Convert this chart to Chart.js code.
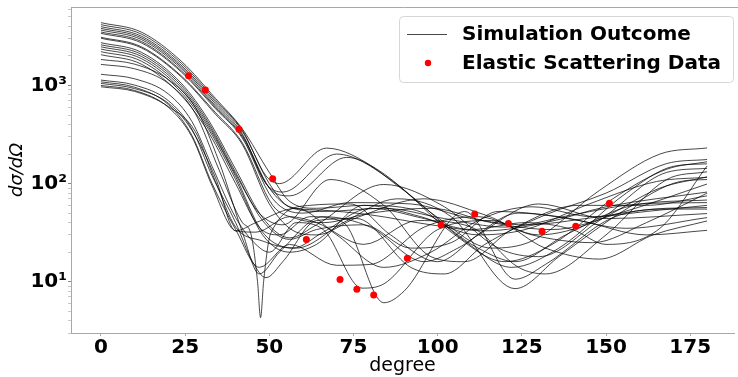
<!DOCTYPE html>
<html>
<head>
<meta charset="utf-8">
<script src="https://cdn.jsdelivr.net/npm/chart.js@4/dist/chart.umd.min.js"></script>
<style>
  html, body { margin: 0; padding: 0; background: #fff; }
  #chart { display: block; }
</style>
</head>
<body>
<canvas id="chart" width="738" height="377"></canvas>
<script>
/* ─── Data ────────────────────────────────────────────── */
// simulated cross sections, [degree, dσ/dΩ] key points per curve
const simulationCurves = [
  [[0,4370],[12,3500],[24,1750],[34,740],[42,360],[50,130],[56,66],[64,56],[78,60],[95,46],[112,30],[126,34],[145,62],[165,105],[180,116]],
  [[0,4170],[12,3340],[24,1670],[34,710],[42,350],[49,120],[53,100],[67,230],[82,140],[100,45],[116,22],[128,26],[148,85],[166,200],[180,231]],
  [[0,3980],[12,3180],[24,1590],[34,680],[42,340],[50,100],[56,58],[64,54],[80,48],[98,38],[114,33],[132,40],[150,58],[180,82]],
  [[0,3820],[12,3060],[24,1530],[34,650],[42,320],[49,100],[54,82],[70,200],[86,110],[104,32],[120,16],[134,24],[152,70],[168,140],[180,167]],
  [[0,3670],[12,2940],[24,1470],[34,620],[42,310],[50,90],[57,56],[66,52],[84,56],[102,44],[120,36],[140,48],[160,62],[180,64]],
  [[0,3510],[12,2810],[24,1400],[34,600],[42,300],[50,90],[56,75],[73,185],[90,85],[108,26],[122,14],[136,22],[156,80],[170,150],[180,159]],
  [[0,3400],[12,2720],[24,1360],[34,580],[42,290],[51,70],[60,50],[74,64],[92,62],[110,44],[126,38],[146,45],[164,55],[180,57]],
  [[0,3100],[12,2480],[24,1240],[34,530],[42,260],[51,60],[58,44],[66,40],[80,50],[98,56],[116,40],[134,34],[154,50],[180,99]],
  [[0,3030],[12,2420],[24,1210],[34,510],[42,250],[50,62],[58,32],[64,30],[76,45],[96,70],[114,48],[130,30],[146,40],[166,90],[180,117]],
  [[0,2730],[12,2180],[24,1040],[32,440],[40,140],[48,45],[56,28],[64,38],[84,98],[102,58],[118,22],[130,18],[148,42],[168,130],[180,143]],
  [[0,2600],[12,2080],[24,990],[32,415],[40,130],[48,42],[56,27],[64,34],[78,38],[92,22],[104,25],[118,52],[136,46],[156,35],[180,45]],
  [[0,2480],[12,1980],[24,940],[32,395],[40,124],[47,50],[54,38],[68,110],[84,60],[98,18],[108,16],[122,34],[142,60],[162,60],[180,75]],
  [[0,2350],[12,1880],[24,890],[32,375],[40,118],[48,32],[58,22],[72,40],[88,70],[104,46],[123,8.5],[136,18],[156,55],[172,105],[180,110]],
  [[0,2210],[12,1770],[24,840],[32,355],[40,110],[48,30],[56,20],[64,24],[78,60],[96,50],[112,22],[123,16],[138,30],[158,60],[180,68]],
  [[0,2060],[12,1650],[24,780],[32,330],[40,100],[47,36],[53,30],[62,46],[72,40],[84,6.1],[90,8],[108,52],[123,10.6],[132,15],[152,45],[170,55],[180,55]],
  [[0,1840],[10,1650],[20,1150],[28,600],[35,170],[42,32],[47,12],[53,20],[66,46],[80,36],[96,16],[106,22],[124,50],[142,42],[162,30],[180,33.4]],
  [[0,1640],[10,1480],[20,1050],[28,520],[35,140],[42,40],[44.5,31],[46.5,10],[47.4,4.3],[48.3,10],[50.4,31],[62,60],[74,62],[86,30],[100,16],[112,30],[130,62],[150,44],[180,49.5]],
  [[0,1300],[10,1170],[20,820],[27,430],[33,150],[40,45],[46,24],[50,20],[58,40],[66,34],[77.5,8.6],[84,9.5],[100,34],[116,42],[132,22],[148,17],[164,30],[180,41.6]],
  [[0,1135],[10,1010],[20,700],[27,360],[33,120],[40,40],[45,16],[49,11],[54,16],[64,42],[76,44],[92,14],[102,12],[114,24],[132,48],[150,80],[168,160],[180,176]],
  [[0,1090],[10,960],[20,640],[27,310],[33,100],[40,34],[47,14],[56,24],[70,14.7],[80,15],[96,36],[112,46],[128,30],[146,25],[162,40],[180,80]],
  [[0,1050],[10,930],[20,660],[27,350],[34,115],[40,33],[46,40],[58,56],[70,30],[84,14],[98,20],[112,42],[128,58],[146,46],[162,52],[180,60]],
  [[0,1000],[10,890],[20,600],[27,300],[33,95],[40,33],[46,32],[56,46],[64,40],[78,24],[94,42],[110,36],[124,14],[132,12],[150,30],[168,110],[180,132]],
  [[0,970],[10,870],[20,610],[28,340],[34,105],[40,36],[48,26],[57,22],[66,32],[80,56],[96,44],[110,34],[126,40],[140,34],[150,24],[166,35],[180,151]],
];

// measured elastic scattering points
const dataAngles = [26, 31, 41, 51, 61, 71, 76, 81, 91, 101, 111, 121, 131, 141, 151];
const dataValues = [1256, 898, 359, 112, 26.9, 10.5, 8.4, 7.3, 17.3, 37.9, 49.1, 39.2, 32.7, 36.8, 63];

const xTicks = [0, 25, 50, 75, 100, 125, 150, 175];
const yTicks = [10, 100, 1000];
const yTickLabels = ['10¹', '10²', '10³'];
const yMinorTicks = [3, 4, 5, 6, 7, 8, 9, 20, 30, 40, 50, 60, 70, 80, 90,
                     200, 300, 400, 500, 600, 700, 800, 900, 2000, 3000, 4000, 5000, 6000];
const legendLabels = ['Simulation Outcome', 'Elastic Scattering Data'];

/* ─── Style ───────────────────────────────────────────── */
const FONT = "'DejaVu Sans', sans-serif";
const LINE = 'rgba(0,0,0,0.72)';
const RED = '#ff0000';
const SPINE = '#a8a8a8';

/* ─── Plugins: top spine + legend ─────────────────────── */
const framePlugin = {
  id: 'frame',
  afterDraw(chart) {
    const { ctx, chartArea: a } = chart;
    ctx.save();
    ctx.strokeStyle = SPINE;
    ctx.lineWidth = 1;
    ctx.beginPath();
    ctx.moveTo(a.left, a.top + 0.5);
    ctx.lineTo(chart.width, a.top + 0.5);
    ctx.stroke();
    ctx.restore();
  }
};

const legendPlugin = {
  id: 'boxLegend',
  afterDraw(chart) {
    const ctx = chart.ctx;
    ctx.save();
    ctx.beginPath();
    ctx.roundRect(399.5, 16.5, 334, 66, 4);
    ctx.fillStyle = 'rgba(255,255,255,0.8)';
    ctx.fill();
    ctx.strokeStyle = '#d6d6d6';
    ctx.lineWidth = 1;
    ctx.stroke();

    ctx.strokeStyle = LINE;
    ctx.beginPath();
    ctx.moveTo(407, 34.5);
    ctx.lineTo(447, 34.5);
    ctx.stroke();

    ctx.fillStyle = RED;
    ctx.beginPath();
    ctx.arc(428, 63, 3.2, 0, Math.PI * 2);
    ctx.fill();

    ctx.fillStyle = '#000';
    ctx.font = 'bold 20px ' + FONT;
    ctx.textBaseline = 'middle';
    ctx.fillText(legendLabels[0], 462, 35);
    ctx.fillText(legendLabels[1], 462, 64);
    ctx.restore();
  }
};

/* ─── Chart ───────────────────────────────────────────── */
const datasets = [{
  label: legendLabels[1],
  data: dataAngles.map((x, i) => ({ x, y: dataValues[i] })),
  showLine: false,
  pointRadius: 3.5,
  pointBackgroundColor: RED,
  pointBorderWidth: 0,
  order: 0,
}].concat(simulationCurves.map(c => ({
  label: legendLabels[0],
  data: c.map(([x, y]) => ({ x, y })),
  showLine: true,
  pointRadius: 0,
  borderColor: LINE,
  borderWidth: 1,
  cubicInterpolationMode: 'monotone',
  order: 1,
})));

new Chart(document.getElementById('chart'), {
  type: 'scatter',
  data: { datasets },
  plugins: [framePlugin, legendPlugin],
  options: {
    responsive: false,
    animation: false,
    devicePixelRatio: 1,
    layout: { padding: { top: 7, right: 1, left: 0, bottom: 0 } },
    plugins: { legend: { display: false }, tooltip: { enabled: false } },
    scales: {
      x: {
        type: 'linear', min: -8.9, max: 188,
        afterBuildTicks: s => { s.ticks = xTicks.map(v => ({ value: v })); },
        afterFit: s => { s.height = 44; s.paddingLeft = 0; s.paddingRight = 0; },
        ticks: { color: '#000', padding: 0, autoSkip: false, maxRotation: 0,
                 font: { family: FONT, size: 20, weight: 'bold' } },
        grid: { drawOnChartArea: false, tickLength: 3, color: SPINE },
        border: { color: SPINE },
        title: { display: true, text: 'degree', color: '#000', padding: { top: 0, bottom: 0 },
                 font: { family: FONT, size: 19 } }
      },
      y: {
        type: 'logarithmic', min: 3.0, max: 6310,
        afterBuildTicks: s => {
          s.ticks = yMinorTicks.concat(yTicks).sort((a, b) => a - b).map(v => ({ value: v, major: yTicks.includes(v) }));
        },
        afterFit: s => { s.width = 71; s.paddingTop = 0; s.paddingBottom = 0; },
        ticks: {
          color: '#000', padding: 1, autoSkip: false,
          font: { family: FONT, size: 20, weight: 'bold' },
          callback: v => { const i = yTicks.indexOf(v); return i >= 0 ? yTickLabels[i] : ''; }
        },
        grid: {
          drawOnChartArea: false, tickLength: 3,
          tickColor: c => yTicks.includes(c.tick && c.tick.value) ? '#888' : '#c8c8c8'
        },
        border: { color: SPINE },
        title: { display: true, text: 'dσ/dΩ', color: '#000', padding: { top: 7, bottom: 0 },
                 font: { family: FONT, size: 18, style: 'italic' } }
      }
    }
  }
});
</script>
</body>
</html>
